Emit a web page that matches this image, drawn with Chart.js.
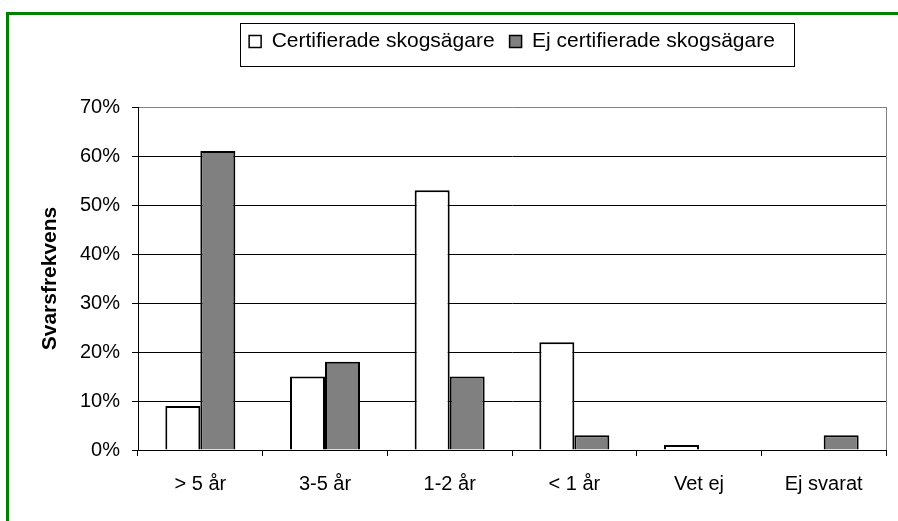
<!DOCTYPE html>
<html>
<head>
<meta charset="utf-8">
<script src="https://cdn.jsdelivr.net/npm/chart.js@4/dist/chart.umd.min.js"></script>
<style>
  body { margin: 0; background: #fff; }
  canvas { display: block; }
</style>
</head>
<body>
<canvas id="chart" width="898" height="521"></canvas>
<script>
// categories and values (percent)
const categories = ['> 5 år', '3-5 år', '1-2 år', '< 1 år', 'Vet ej', 'Ej svarat'];
const certified = [9, 15, 53, 22, 1, 0];
const notCertified = [61, 18, 15, 3, 0, 3];
const seriesNames = ['Certifierade skogsägare', 'Ej certifierade skogsägare'];
const yTicks = [0, 10, 20, 30, 40, 50, 60, 70];

const FONT = '"Liberation Sans", Arial, sans-serif';
Chart.defaults.color = '#000';
Chart.defaults.font.family = FONT;

// green frame on the left and top, legend frame
const frame = {
  id: 'frame',
  afterInit(chart) {
    // make the legend block tall enough to leave the gap above the plot
    const fit = chart.legend.fit;
    chart.legend.fit = function () {
      fit.call(this);
      this.height = 91;
    };
  },
  beforeDraw(chart) {
    const c = chart.ctx;
    c.save();
    c.fillStyle = '#008000';
    c.fillRect(6, 12, 3, 521);
    c.fillRect(6, 12, 898, 3);
    c.restore();
  },
  afterDraw(chart) {
    const boxes = chart.legend.legendHitBoxes;
    if (!boxes || !boxes.length) return;
    const first = boxes[0], last = boxes[boxes.length - 1];
    const mid = first.top + first.height / 2;
    const c = chart.ctx;
    c.save();
    c.strokeStyle = '#000';
    c.lineWidth = 1;
    c.strokeRect(Math.round(first.left - 9) + 0.5, Math.round(mid - 19) + 0.5,
      Math.round(last.left + last.width + 19 - (first.left - 9)), 43);
    // right border of the plot area
    const a = chart.chartArea;
    c.strokeStyle = '#808080';
    c.beginPath();
    c.moveTo(Math.round(a.right) + 0.5, a.top);
    c.lineTo(Math.round(a.right) + 0.5, a.bottom);
    c.stroke();
    c.restore();
  }
};

new Chart(document.getElementById('chart'), {
  type: 'bar',
  data: {
    labels: categories,
    datasets: [{
      label: seriesNames[0],
      data: certified,
      backgroundColor: '#ffffff',
      borderColor: '#000',
      borderWidth: 2
    }, {
      label: seriesNames[1],
      data: notCertified,
      backgroundColor: '#808080',
      borderColor: '#000',
      borderWidth: 2
    }]
  },
  options: {
    responsive: false,
    animation: false,
    datasets: {
      bar: { categoryPercentage: 0.5615, barPercentage: 1 }
    },
    layout: { padding: { left: 0, right: 12, top: 16, bottom: 0 } },
    plugins: {
      legend: {
        position: 'top',
        fullSize: false,
        labels: {
          font: { size: 21 },
          boxWidth: 12,
          boxHeight: 12,
          padding: 15,
          generateLabels(chart) {
            const items = Chart.defaults.plugins.legend.labels.generateLabels(chart);
            items.forEach(it => { it.lineWidth = 1.5; });
            return items;
          }
        }
      },
      tooltip: { enabled: false }
    },
    scales: {
      x: {
        afterFit(scale) { scale.height = 71; },
        grid: {
          offset: true,
          drawOnChartArea: false,
          tickLength: 6,
          tickColor: '#000'
        },
        border: { color: '#000', width: 1 },
        ticks: { font: { size: 20 }, padding: 16, maxRotation: 0 }
      },
      y: {
        min: 0,
        max: 70,
        afterFit(scale) { scale.width = 138; },
        afterBuildTicks(scale) { scale.ticks = yTicks.map(v => ({ value: v })); },
        title: {
          display: true,
          text: 'Svarsfrekvens',
          font: { size: 21, weight: 'bold' },
          padding: { top: 38, bottom: 0 }
        },
        grid: {
          color: ctx => (ctx.tick && ctx.tick.value === 70 ? '#808080' : '#000'),
          tickColor: '#000',
          tickLength: 6
        },
        border: { color: '#000', width: 1 },
        ticks: {
          font: { size: 20 },
          padding: 12,
          callback: v => v + '%'
        }
      }
    }
  },
  plugins: [frame]
});
</script>
</body>
</html>
